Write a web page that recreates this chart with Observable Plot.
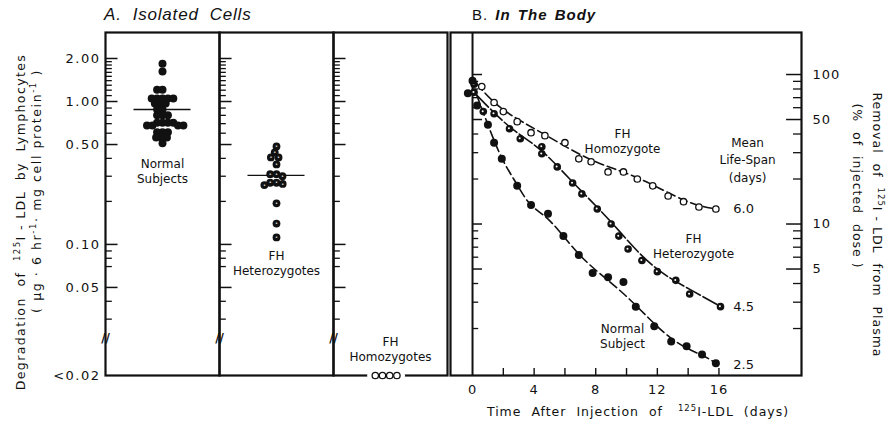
<!DOCTYPE html>
<html>
<head>
<meta charset="utf-8">
<script src="https://cdn.jsdelivr.net/npm/d3@7"></script>
<script src="https://cdn.jsdelivr.net/npm/@observablehq/plot@0.6"></script>
<style>
  body { margin: 0; background: #fff; }
  #chart { position: relative; width: 888px; height: 421px; overflow: hidden; font-family: "DejaVu Sans", sans-serif; color: #111; }
  #chart svg { position: absolute; left: 0; top: 0; background: transparent; }
  .lbl { position: absolute; white-space: nowrap; color: #111; }
  .rotL { transform: translate(-50%, -50%) rotate(-90deg); }
  .rotR { transform: translate(-50%, -50%) rotate(90deg); }
  .ctr { transform: translate(-50%, -50%); }
  .sup { font-size: 0.68em; vertical-align: 0.5em; }
  .pa g[aria-label="y-axis tick label"] text { letter-spacing: 1.5px; }
  .pb g[aria-label="x-axis tick label"] text, .pb g[aria-label="y-axis tick label"] text { letter-spacing: 1px; }
</style>
</head>
<body>
<div id="chart"></div>
<script>
// ---------- Panel A: isolated cells ----------
const groupsA = ["Normal Subjects", "FH Heterozygotes", "FH Homozygotes"];
const normalCells = [1.84, 1.62, 1.21, 1.21, 1.05, 1.05, 1.05, 1.05, 1.05, 0.97, 0.97, 0.97,
  0.88, 0.88, 0.80, 0.80, 0.80, 0.71, 0.71, 0.71, 0.71, 0.68, 0.68, 0.68, 0.68,
  0.61, 0.61, 0.61, 0.56, 0.56, 0.56, 0.51];
const heteroCells = [0.485, 0.44, 0.406, 0.406, 0.363, 0.31, 0.31, 0.30, 0.27, 0.27, 0.265, 0.26, 0.194, 0.14, 0.112];
const homoCellsCount = 4;               // four subjects below detection ("<0.02")
const meanA = [0.88, 0.304];            // mean lines: normal, heterozygotes
const yDomainA = [0.0121, 3.04];        // broken log axis; bottom row is "<0.02"
const tickValsA = [2, 1, 0.5, 0.1, 0.05, 0.0121];
const tickLabelsA = ["2.00", "1.00", "0.50", "0.10", "0.05", "<0.02"];
const minorTicksA = [1.9, 1.8, 1.7, 1.6, 1.5, 1.4, 1.3, 1.2, 1.1, 0.9, 0.8, 0.7, 0.6, 0.4, 0.3, 0.2, 0.09, 0.08, 0.07, 0.04, 0.03];
const breakValA = [0.022];
const labelTextA = ["Normal\nSubjects", "FH\nHeterozygotes", "FH\nHomozygotes"];
const labelYA = [0.329, 0.0748, 0.01875];

// ---------- Panel B: in the body ----------
const normalDays = [-0.3, 0, 0.3, 1.0, 1.4, 1.9, 2.9, 3.8, 4.9, 5.9, 6.9, 7.8, 8.8, 9.8, 10.6, 11.8, 12.9, 13.9, 14.9, 15.8];
const normalVals = [75, 91, 62, 46.2, 35.0, 27.3, 18.0, 13.4, 11.7, 8.3, 6.2, 4.7, 4.4, 4.1, 2.8, 2.07, 1.64, 1.52, 1.34, 1.17];
const heteroDays = [0.1, 0.1, 0.7, 1.4, 2.4, 3.1, 4.5, 4.5, 5.5, 6.5, 7.1, 8.1, 9.0, 9.5, 10.1, 11.0, 12.0, 13.2, 14.1, 16.1];
const heteroVals = [86, 76, 56.5, 54.7, 43.4, 37.2, 32.9, 29.5, 24.1, 18.8, 15.9, 12.6, 10.0, 8.3, 6.8, 5.7, 4.8, 4.2, 3.4, 2.8];
const homoDays = [0.6, 1.4, 2.0, 2.9, 3.8, 4.7, 6.0, 6.9, 7.7, 8.8, 9.8, 10.7, 11.7, 12.7, 13.7, 14.7, 15.8];
const homoVals = [83, 65, 56.5, 48.4, 40.8, 39.0, 35.0, 27.3, 26.1, 22.3, 22.3, 20.0, 18.0, 15.4, 14.1, 13.0, 12.6];

const fitHomoDays = [0.26, 2.0, 4.7, 7.7, 10.7, 13.7, 15.8];
const fitHomoVals = [87, 58.2, 39.6, 26.9, 20.4, 14.5, 12.6];
const fitHeteroDays = [0.3, 2.4, 4.4, 6.5, 9.0, 11.6, 14.2, 16.1];
const fitHeteroVals = [72.3, 44.8, 31.4, 19.1, 10.3, 5.39, 3.61, 2.81];
const fitNormalDays = [0.26, 1.0, 1.9, 2.9, 3.8, 5.1, 6.9, 8.8, 10.6, 12.9, 14.8, 15.8];
const fitNormalVals = [73.4, 46.2, 27.7, 18.3, 13.4, 10.3, 6.3, 4.2, 2.86, 1.72, 1.34, 1.17];

const xDomainB = [-1.43, 21.36];
const yDomainB = [0.97, 191];
const xLabelTicksB = [0, 4, 8, 12, 16];
const xMinorTicksB = [2, 4, 6, 8, 10, 12, 14, 16];
const yLabelTicksB = [100, 50, 10, 5];
const yMinorTicksB = [90, 80, 70, 60, 40, 30, 20, 9, 8, 7, 6, 4, 3, 2];

const lifeSpanLabels = ["6.0", "4.5", "2.5"];
const lifeSpanY = [12.6, 2.81, 1.149];
const curveLabels = ["FH\nHomozygote", "FH\nHeterozygote", "Normal\nSubject"];
const curveLabelX = [9.74, 14.35, 9.74];
const curveLabelY = [36.1, 7.12, 1.80];

// ---------- build panel A ----------
const meanRowsA = meanA.map((v, i) => ({group: groupsA[i], value: v}));
const labelRowsA = labelTextA.map((t, i) => ({group: groupsA[i], text: t, y: labelYA[i]}));
const homoCells = d3.range(homoCellsCount).map(() => yDomainA[0]);

const plotA = Plot.plot({
  className: "pa",
  width: 888, height: 421,
  marginLeft: 104, marginRight: 441, marginTop: 32, marginBottom: 46,
  style: {background: "transparent", fontFamily: "DejaVu Sans, sans-serif", fontSize: "12px", color: "#111"},
  fx: {domain: groupsA, padding: 0, axis: null, label: null},
  x: {domain: [0, 1], axis: null, label: null},
  y: {type: "log", domain: yDomainA, axis: null, label: null},
  marks: [
    Plot.frame({stroke: "#111", strokeWidth: 2.2}),
    Plot.ruleY(minorTicksA, {y: d => d, x1: 0, x2: 0.06, stroke: "#111", strokeWidth: 1.3}),
    Plot.ruleY(tickValsA.slice(0, 5), {y: d => d, x1: 0, x2: 0.11, stroke: "#111", strokeWidth: 1.5}),
    Plot.axisY({ticks: tickValsA, tickFormat: d => tickLabelsA[tickValsA.indexOf(d)], tickSize: 0, tickPadding: 5, fontSize: 13, label: null}),
    Plot.text(breakValA, {y: d => d, x: 0, text: () => "//", fontSize: 12, fontWeight: "bold", fill: "#111"}),
    Plot.ruleY(meanRowsA, {y: "value", fx: "group", x1: 0.25, x2: 0.75, stroke: "#111", strokeWidth: 1.4}),
    Plot.dot(normalCells, Plot.dodgeX({anchor: "middle", padding: -2.6}, {y: d => d, fx: () => groupsA[0], r: 4, fill: "#111"})),
    Plot.dot(heteroCells, Plot.dodgeX({anchor: "middle", padding: -1.5}, {y: d => d, fx: () => groupsA[1], r: 3.9, fill: "#111"})),
    Plot.text(heteroCells, Plot.dodgeX({anchor: "middle", padding: -1.5}, {y: d => d, fx: () => groupsA[1], r: 3.9, text: () => "•", fill: "white", fontSize: 5})),
    Plot.dot(homoCells, Plot.dodgeX({anchor: "middle", padding: 0.8}, {y: d => d, fx: () => groupsA[2], r: 3.2, stroke: "white", strokeWidth: 10, fill: "white", dx: -8})),
    Plot.dot(homoCells, Plot.dodgeX({anchor: "middle", padding: 0.8}, {y: d => d, fx: () => groupsA[2], r: 3.2, stroke: "#111", strokeWidth: 1.3, fill: "white", dx: -8})),
    Plot.text(labelRowsA, {fx: "group", y: "y", frameAnchor: "middle", text: "text", fontSize: 12, lineHeight: 1.25, fill: "#111"})
  ]
});

// ---------- build panel B ----------
const rows = (xs, ys) => xs.map((x, i) => ({x, y: ys[i]}));
const normalRows = rows(normalDays, normalVals);
const heteroRows = rows(heteroDays, heteroVals);
const homoRows = rows(homoDays, homoVals);
const xMax = xDomainB[1];

const plotB = Plot.plot({
  className: "pb",
  width: 888, height: 421,
  marginLeft: 450, marginRight: 87, marginTop: 32, marginBottom: 46,
  style: {background: "transparent", fontFamily: "DejaVu Sans, sans-serif", fontSize: "12px", color: "#111"},
  x: {domain: xDomainB, axis: null, label: null},
  y: {type: "log", domain: yDomainB, axis: null, label: null},
  marks: [
    Plot.frame({stroke: "#111", strokeWidth: 2.2}),
    Plot.ruleX([0], {stroke: "#111", strokeWidth: 2}),
    Plot.ruleX(xMinorTicksB, {x: d => d, y1: yDomainB[0], y2: 1.08, stroke: "#111", strokeWidth: 1.4}),
    Plot.ruleY(yMinorTicksB, {y: d => d, x1: xMax - 0.52, x2: xMax, stroke: "#111", strokeWidth: 1.3}),
    Plot.ruleY(yLabelTicksB, {y: d => d, x1: xMax - 0.97, x2: xMax, stroke: "#111", strokeWidth: 1.5}),
    Plot.ruleY(yMinorTicksB, {y: d => d, x1: 0, x2: 0.4, stroke: "#111", strokeWidth: 1.3}),
    Plot.ruleY(yLabelTicksB, {y: d => d, x1: 0, x2: 0.65, stroke: "#111", strokeWidth: 1.5}),
    Plot.axisX({ticks: xLabelTicksB, tickSize: 0, tickPadding: 9, fontSize: 13, label: null}),
    Plot.axisY({anchor: "right", ticks: yLabelTicksB, tickSize: 0, tickPadding: 11, tickFormat: d => String(d), fontSize: 13, label: null}),
    Plot.line(rows(fitHomoDays, fitHomoVals), {x: "x", y: "y", curve: "natural", stroke: "#111", strokeWidth: 1.6, strokeDasharray: "9,4"}),
    Plot.line(rows(fitHeteroDays, fitHeteroVals), {x: "x", y: "y", curve: "natural", stroke: "#111", strokeWidth: 1.6, strokeDasharray: "16,3"}),
    Plot.line(rows(fitNormalDays, fitNormalVals), {x: "x", y: "y", curve: "natural", stroke: "#111", strokeWidth: 1.6, strokeDasharray: "9,4"}),
    Plot.dot(homoRows, {x: "x", y: "y", r: 3.2, stroke: "#111", strokeWidth: 1.3, fill: "white"}),
    Plot.dot(heteroRows, {x: "x", y: "y", r: 3.8, fill: "#111"}),
    Plot.dot(heteroRows, {x: "x", y: "y", r: 1, fill: "white", dx: -0.6, dy: -0.4}),
    Plot.dot(normalRows, {x: "x", y: "y", r: 4, fill: "#111"}),
    Plot.text(curveLabels, {x: (d, i) => curveLabelX[i], y: (d, i) => curveLabelY[i], text: d => d, fontSize: 12, lineHeight: 1.25, fill: "#111"}),
    Plot.text(lifeSpanLabels, {x: 17.6, y: (d, i) => lifeSpanY[i], text: d => d, fontSize: 13, fill: "#111"}),
    Plot.text(["Mean\nLife-Span\n(days)"], {x: 17.86, y: () => 27.3, text: d => d, fontSize: 12, lineHeight: 1.45, fill: "#111"})
  ]
});

const chart = document.getElementById("chart");
chart.appendChild(plotA);
chart.appendChild(plotB);

function addLabel(html, cls, left, top, style) {
  const el = document.createElement("div");
  el.className = "lbl " + cls;
  el.style.left = left + "px";
  el.style.top = top + "px";
  Object.assign(el.style, style || {});
  el.innerHTML = html;
  chart.appendChild(el);
}
addLabel("A.&nbsp; Isolated&nbsp; Cells", "", 104, 5, {font: "italic 17px 'Liberation Sans', sans-serif", letterSpacing: "0.8px"});
addLabel("B. <b><i>In The Body</i></b>", "", 472, 6, {font: "15px 'Liberation Sans', sans-serif", letterSpacing: "1px", wordSpacing: "2px"});
addLabel("Degradation&nbsp; of&nbsp; <span class='sup'>125</span>I - LDL&nbsp; by&nbsp; Lymphocytes", "rotL", 20, 222, {fontSize: "12.5px", letterSpacing: "1.4px"});
addLabel("( &mu;g &middot; 6 hr<span class='sup'>-1</span>&middot; mg cell protein<span class='sup'>-1</span> )", "rotL", 36, 191, {fontSize: "12.5px", letterSpacing: "1.6px"});
addLabel("Removal&nbsp; of&nbsp; <span class='sup'>125</span>I - LDL&nbsp; from&nbsp; Plasma", "rotR", 878, 225, {fontSize: "12.5px", letterSpacing: "1px"});
addLabel("(% &nbsp;of&nbsp; injected&nbsp; dose )", "rotR", 857, 186, {fontSize: "12.5px", letterSpacing: "1px"});
addLabel("Time&nbsp; After&nbsp; Injection&nbsp; of&nbsp; &nbsp;<span class='sup'>125</span>I-LDL&nbsp; (days)", "ctr", 638, 411, {fontSize: "12.5px", letterSpacing: "1px"});
</script>
</body>
</html>
